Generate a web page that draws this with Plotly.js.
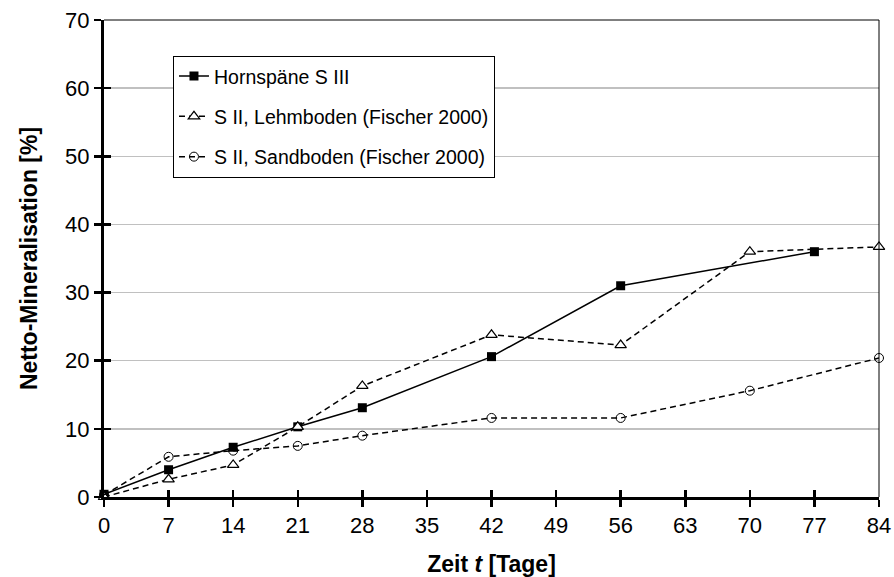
<!DOCTYPE html>
<html>
<head>
<meta charset="utf-8">
<script src="https://cdn.plot.ly/plotly-3.0.1.min.js"></script>
<style>html,body{margin:0;padding:0;background:#fff;}#chart{width:894px;height:577px;}</style>
</head>
<body>
<div id="chart"></div>
<script>
const days_horn = [0, 7, 14, 21, 28, 42, 56, 77];
const horn = [0.4, 4.0, 7.3, 10.3, 13.1, 20.6, 31.0, 36.0];

const days_lehm = [0, 7, 14, 21, 28, 42, 56, 70, 84];
const lehm = [0.0, 2.6, 4.7, 10.3, 16.3, 23.8, 22.3, 36.0, 36.7];

const days_sand = [0, 7, 14, 21, 28, 42, 56, 70, 84];
const sand = [0.3, 5.9, 6.8, 7.5, 9.0, 11.6, 11.6, 15.6, 20.4];

const names = ["Hornspäne S III", "S II, Lehmboden (Fischer 2000)", "S II, Sandboden (Fischer 2000)"];
const xTicks = [0, 7, 14, 21, 28, 35, 42, 49, 56, 63, 70, 77, 84];
const yTicks = [0, 10, 20, 30, 40, 50, 60, 70];

const FONT = "Liberation Sans, Arial, sans-serif";

const traces = [
  {
    x: days_horn, y: horn, name: names[0], mode: "lines+markers", legendgroup: "a",
    line: {color: "#000", width: 1.5},
    marker: {symbol: "square", size: 9, color: "#000"},
    cliponaxis: false
  },
  {
    x: days_lehm, y: lehm, name: names[1], mode: "lines+markers", legendgroup: "b",
    line: {color: "#000", width: 1.5, dash: "6px,4px"},
    marker: {symbol: "triangle-up", size: 10, color: "#fff", line: {color: "#000", width: 1.2}},
    cliponaxis: false
  },
  {
    x: days_sand, y: sand, name: names[2], mode: "lines+markers", legendgroup: "c",
    line: {color: "#000", width: 1.5, dash: "6px,4px"},
    marker: {symbol: "circle-open", size: 9, color: "#000", line: {color: "#000", width: 1}},
    cliponaxis: false
  }
];

const layout = {
  width: 894, height: 577,
  margin: {l: 104, r: 15, t: 20, b: 80},
  paper_bgcolor: "#fff", plot_bgcolor: "#fff",
  font: {family: FONT, color: "#000", size: 22},
  showlegend: true,
  legend: {
    x: 0.089, y: 0.925, xanchor: "left", yanchor: "top",
    bgcolor: "#fff", bordercolor: "#000", borderwidth: 1,
    font: {family: FONT, size: 19.5, color: "#000"},
    traceorder: "grouped", tracegroupgap: 12,
    itemwidth: 30
  },
  xaxis: {
    range: [0, 84], tickvals: xTicks, ticktext: xTicks.map(String),
    showgrid: false, zeroline: false,
    showline: true, linecolor: "#000", linewidth: 3,
    ticks: "outside", ticklen: 7, tickwidth: 2.5, tickcolor: "#000",
    tickfont: {family: FONT, size: 22},
    title: {text: "<b>Zeit <i>t</i> [Tage]</b>", font: {family: FONT, size: 23}, standoff: 21}
  },
  xaxis2: {
    overlaying: "x", anchor: "y", side: "bottom",
    range: [0, 84], tickvals: xTicks, showticklabels: false,
    showgrid: false, zeroline: false, showline: false,
    ticks: "inside", ticklen: 7, tickwidth: 2.5, tickcolor: "#000"
  },
  yaxis: {
    range: [0, 70], tickvals: yTicks, ticktext: yTicks.map(String),
    showgrid: true, gridcolor: "#c0c0c0", gridwidth: 1.5, zeroline: false,
    showline: true, linecolor: "#000", linewidth: 3,
    ticks: "outside", ticklen: 7, tickwidth: 2.5, tickcolor: "#000",
    tickfont: {family: FONT, size: 22},
    title: {text: "<b>Netto-Mineralisation [%]</b>", font: {family: FONT, size: 23}, standoff: 22}
  },
  yaxis2: {
    overlaying: "y", anchor: "x", side: "left",
    range: [0, 70], tickvals: yTicks, showticklabels: false,
    showgrid: false, zeroline: false, showline: false,
    ticks: "inside", ticklen: 7, tickwidth: 2.5, tickcolor: "#000"
  },
  shapes: [
    {type: "line", xref: "paper", yref: "paper", x0: 0, x1: 1, y0: 1, y1: 1, line: {color: "#000", width: 1}},
    {type: "line", xref: "paper", yref: "paper", x0: 1, x1: 1, y0: 0, y1: 1, line: {color: "#000", width: 1}}
  ]
};

// invisible helper trace so the overlay axes (inside tick marks) are drawn
traces.push({x: [0], y: [0], xaxis: "x2", yaxis: "y2", mode: "markers", marker: {opacity: 0}, showlegend: false, hoverinfo: "skip"});

Plotly.newPlot("chart", traces, layout, {displayModeBar: false, staticPlot: true});
</script>
</body>
</html>
